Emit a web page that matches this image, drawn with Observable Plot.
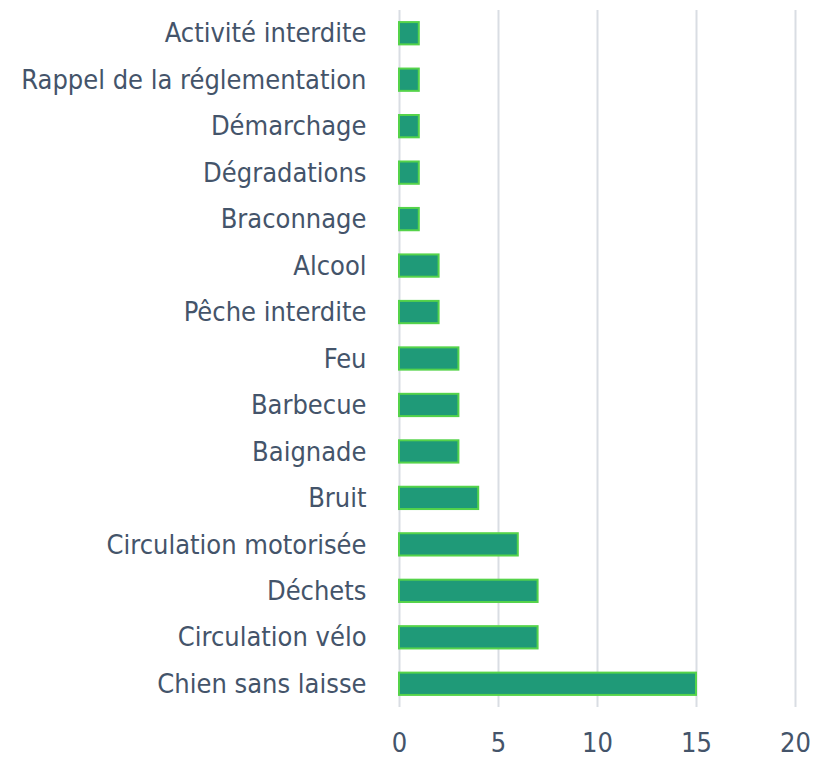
<!DOCTYPE html>
<html><head><meta charset="utf-8">
<script src="https://cdn.jsdelivr.net/npm/d3@7"></script>
<script src="https://cdn.jsdelivr.net/npm/@observablehq/plot@0.6"></script>
<style>
body{margin:0;background:#fff;}
svg{font-family:"Liberation Sans Narrow","DejaVu Sans Condensed",sans-serif;}
</style></head>
<body><div id="chart"></div>
<script>
const categories = ["Activité interdite","Rappel de la réglementation","Démarchage","Dégradations","Braconnage","Alcool","Pêche interdite","Feu","Barbecue","Baignade","Bruit","Circulation motorisée","Déchets","Circulation vélo","Chien sans laisse"];
const values = [1,1,1,1,1,2,2,3,3,3,4,6,7,7,15];
const xTicks = [0,5,10,15,20];
const data = categories.map((c,i)=>({category:c, value:values[i]}));
const textColor = "#44546a";
const chart = Plot.plot({
  width: 813, height: 761,
  marginLeft: 399, marginRight: 18, marginTop: 10, marginBottom: 54,
  style: {fontSize: "27px", color: textColor, background: "#fff"},
  x: {domain: [0,20], ticks: xTicks, label: null, tickSize: 0, tickPadding: 25},
  y: {domain: categories, label: null, tickSize: 0, tickPadding: 33, paddingInner: 0.52, paddingOuter: 0.26, round: false},
  marks: [
    Plot.ruleX(xTicks, {stroke: "#d9dde3", strokeWidth: 2}),
    Plot.barX(data, {x: "value", y: "category", fill: "#1f9a78", stroke: "#55d34a", strokeWidth: 2})
  ]
});
document.getElementById("chart").appendChild(chart);
</script></body></html>
